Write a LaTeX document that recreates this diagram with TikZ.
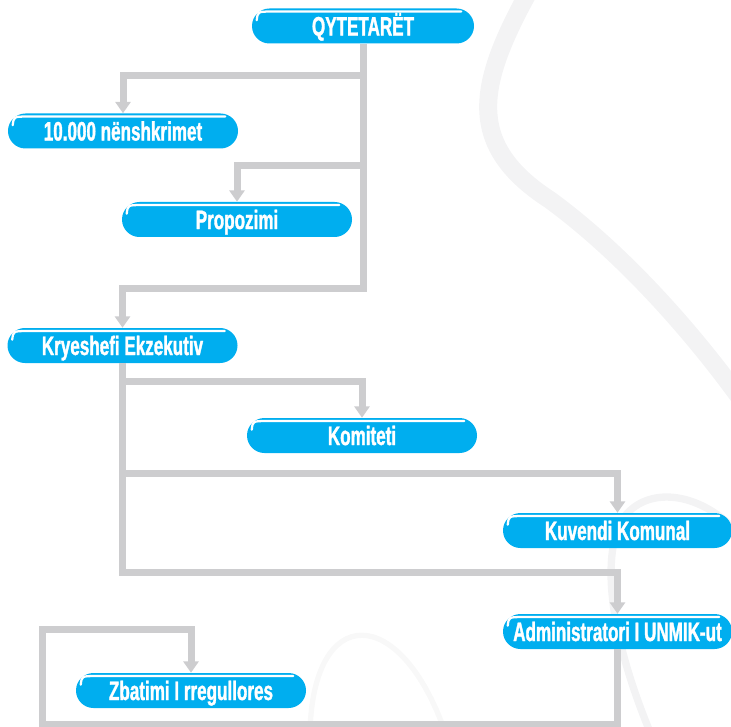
\documentclass[tikz,border=0pt]{standalone}
\usepackage{fontspec}
\newfontfamily\pillfont[FakeStretch=0.64,FakeBold=1.3]{Liberation Sans Bold}
\usetikzlibrary{arrows.meta,calc}
\definecolor{pillblue}{RGB}{0,174,239}
\definecolor{pipegray}{RGB}{205,205,207}
\definecolor{swirl}{RGB}{243,243,244}

\begin{document}
\begin{tikzpicture}[x=0.75pt,y=0.75pt,yscale=-1,xscale=1,
	pill/.style={rounded corners=13.1pt, fill=pillblue, text=white, inner sep=0pt,
		minimum width=172.5pt, minimum height=26.25pt, text height=14.3pt, text depth=0pt,
		font=\pillfont\fontsize{20}{21}\selectfont},
	shine/.style={draw=white, line width=1.7pt, line cap=round},
	pipe/.style={draw=pipegray, line width=5.25pt, -{Triangle[width=11.25pt,length=8.5pt]}}]
	\useasboundingbox (0,0) rectangle (731,727);
	\clip (0,0) rectangle (731,727);

	%Curve Lines (faint swirls in the background)
	\draw [swirl, line width=13.5pt]    (527,-5) .. controls (478,85) and (465,145) .. (550,200) .. controls (625,255) and (695,335) .. (745,405) ;
	%Curve Lines
	\draw [swirl, line width=5.5pt]    (650,732) .. controls (612,640) and (600,560) .. (622,520) .. controls (645,485) and (700,490) .. (740,535) ;
	%Curve Lines
	\draw [swirl!60, line width=4pt]    (310,732) .. controls (313,603) and (400,603) .. (445,732) ;

	% Text Node
	\node [pill, minimum width=166.5pt] (qyt) at (363,26) {QYTETARËT};
	% Text Node
	\node [pill] (nen) at (123,131) {10.000 nënshkrimet};
	% Text Node
	\node [pill] (pro) at (237,219.5) {Propozimi};
	% Text Node
	\node [pill] (kry) at (122.5,345.5) {Kryeshefi Ekzekutiv};
	% Text Node
	\node [pill] (kom) at (362,435.5) {Komiteti};
	% Text Node
	\node [pill, minimum width=171.75pt] (kuv) at (617.5,530.5) {Kuvendi Komunal};
	% Text Node
	\node [pill, minimum width=171.75pt] (adm) at (617.5,631.5) {Administratori I UNMIK-ut};
	% Text Node
	\node [pill] (zba) at (191,690.5) {Zbatimi I rregullores};

	% highlight on each pill
	\foreach \n in {qyt,nen,pro,kry,kom,kuv,adm,zba}{
		\draw [shine] ($(\n.north west)+(5,12)$) .. controls ($(\n.north west)+(6,3.5)$) .. ($(\n.north west)+(18,3.3)$) -- ($(\n.north east)+(-13,3.3)$) ;
	}

	% Connection
	\draw [pipe]    (qyt.south) -- ++(0,32) -| (nen.north) ;
	% Connection
	\draw [pipe]    (qyt.south) -- ++(0,122) -| (pro.north) ;
	% Connection
	\draw [pipe]    (qyt.south) -- ++(0,245) -| (kry.north) ;
	% Connection
	\draw [pipe]    (kry.south) -- ++(0,18) -| (kom.north) ;
	% Connection
	\draw [pipe]    (kry.south) -- ++(0,110) -| (kuv.north) ;
	% Connection
	\draw [pipe]    (kry.south) -- ++(0,209) -| (adm.north) ;
	% Connection
	\coordinate (loop) at (42,629);
	\draw [pipe]    (adm.south) -- ++(0,75) -| (loop) -| (zba.north) ;

\end{tikzpicture}
\end{document}
